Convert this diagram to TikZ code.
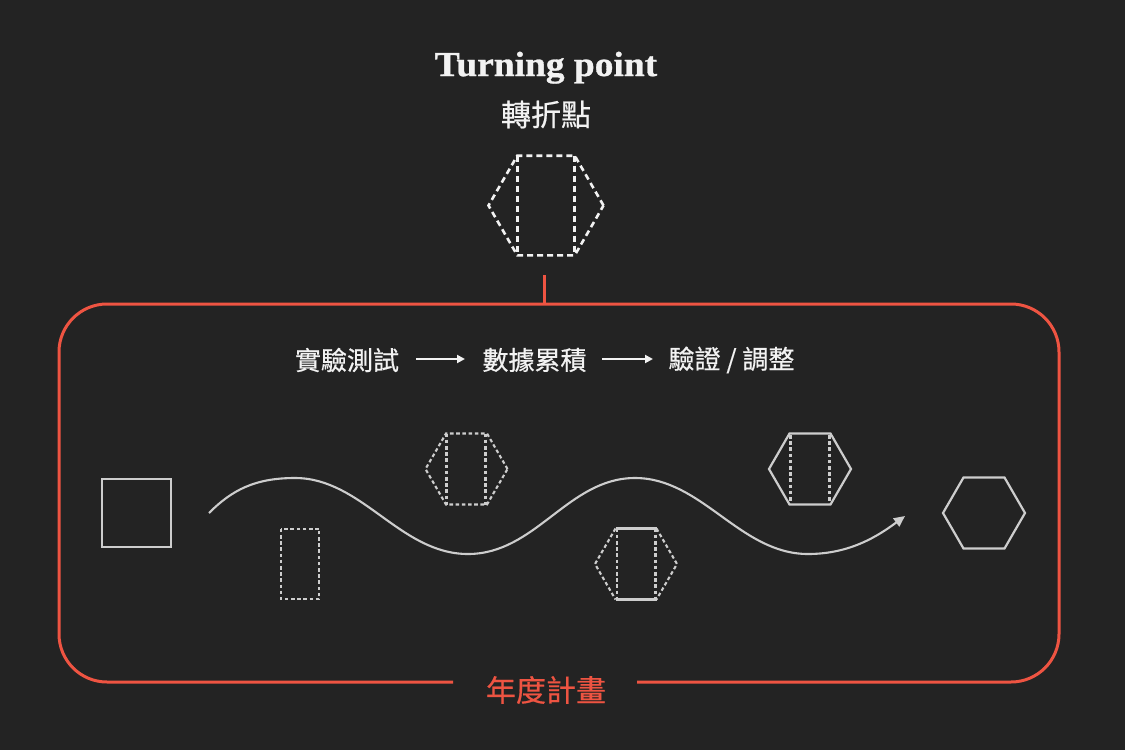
\documentclass[tikz,border=0pt]{standalone}
\usepackage{fontspec}
\usepackage{graphicx}
\setmainfont{Liberation Serif}
\newfontfamily\cjk[FakeBold=0.6]{Noto Sans CJK TC}
\newfontfamily\titlefont[FakeBold=0.8]{Liberation Serif Bold}
\usetikzlibrary{arrows.meta}
\definecolor{bgc}{HTML}{232323}
\definecolor{redc}{HTML}{EE5442}
\definecolor{grayc}{HTML}{CDCDCD}
\definecolor{whitec}{HTML}{F2F2F2}
\tikzset{
  frame/.style={draw=redc, line width=3pt},
  solidshape/.style={draw=grayc, line width=2.2pt, line join=miter},
  dashshape/.style={draw=grayc, line width=2.1pt, dash pattern=on 3.6pt off 2.6pt},
  bigdash/.style={draw=whitec, line width=2.6pt, dash pattern=on 6pt off 4pt},
  wave/.style={draw=grayc, line width=2.1pt, -{Triangle[length=11pt,width=10pt]}},
  flowarrow/.style={draw=whitec, line width=2pt, -{Triangle[length=8pt,width=8pt]}},
  cjktext/.style={text=whitec, font=\cjk\fontsize{26}{30}\selectfont, inner sep=0pt},
}
\begin{document}
\begin{tikzpicture}[x=1pt,y=-1pt]
\fill[bgc] (0,0) rectangle (1125,750);
\useasboundingbox (0,0) rectangle (1125,750);

% titles
\node[text=whitec, anchor=base, inner sep=0pt, font=\titlefont\fontsize{35}{40}\selectfont] (title) at (546,76) {\scalebox{1.07}[1]{Turning point}};
\node[cjktext, font=\cjk\fontsize{30}{34}\selectfont] (subtitle) at (546,114.5) {轉折點};

% top hexagon (all dashed) with inner rectangle
\begin{scope}[shift={(546,205.5)}]
  \draw[bigdash] (57.5,0) -- (28.75,-49.8) -- (-28.75,-49.8) -- (-57.5,0) -- (-28.75,49.8) -- (28.75,49.8) -- cycle;
  \draw[bigdash] (-28.75,-49.8) -- (-28.75,49.8);
  \draw[bigdash] (28.75,-49.8) -- (28.75,49.8);
\end{scope}

% frame
\coordinate (linktop) at (544,275);
\coordinate (linkbot) at (544,304);
\draw[frame] (linktop) -- (linkbot);
\coordinate (gapL) at (453,682);
\coordinate (gapR) at (637,682);
\draw[frame, rounded corners=48pt] (gapL) -- (59,682) -- (59,304) -- (1059,304) -- (1059,682) -- (gapR);
\node[text=redc, font=\cjk\fontsize{30}{34}\selectfont, inner sep=0pt] (plan) at (546,690) {年度計畫};

% process row
\node[cjktext] (s1) at (347,360) {實驗測試};
\node[cjktext] (s2) at (534.5,360) {數據累積};
\node[cjktext] (s3) at (731.5,360) {驗證 / 調整};
\coordinate (a1a) at (416,359);
\coordinate (a1b) at (465,359);
\coordinate (a2a) at (602,359);
\coordinate (a2b) at (653,359);
\draw[flowarrow] (a1a) -- (a1b);
\draw[flowarrow] (a2a) -- (a2b);

% evolution shapes
\draw[solidshape] (101.7,479) rectangle (170.7,547);
\draw[dashshape] (280.7,528.7) rectangle (319.3,599);

\begin{scope}[shift={(466.5,469)}]
  \draw[dashshape] (41,0) -- (20.5,-35.5) -- (-20.5,-35.5) -- (-41,0) -- (-20.5,35.5) -- (20.5,35.5) -- cycle;
  \draw[dashshape] (-20,-35.5) -- (-20,35.5);
  \draw[dashshape] (19,-35.5) -- (19,35.5);
\end{scope}

\begin{scope}[shift={(636,564)}]
  \draw[solidshape] (-20.5,-35.5) -- (20.5,-35.5);
  \draw[solidshape] (-20.5,35.5) -- (20.5,35.5);
  \draw[dashshape] (20.5,-35.5) -- (41,0) -- (20.5,35.5);
  \draw[dashshape] (-20.5,-35.5) -- (-41,0) -- (-20.5,35.5);
  \draw[dashshape] (-19,-35.5) -- (-19,35.5);
  \draw[dashshape] (19.5,-35.5) -- (19.5,35.5);
\end{scope}

\begin{scope}[shift={(810,469)}]
  \draw[solidshape] (41,0) -- (20.5,-35.5) -- (-20.5,-35.5) -- (-41,0) -- (-20.5,35.5) -- (20.5,35.5) -- cycle;
  \draw[dashshape] (-19.5,-34) -- (-19.5,34);
  \draw[dashshape] (19.5,-34) -- (19.5,34);
\end{scope}

\begin{scope}[shift={(984,513)}]
  \draw[solidshape] (41,0) -- (20.5,-35.5) -- (-20.5,-35.5) -- (-41,0) -- (-20.5,35.5) -- (20.5,35.5) -- cycle;
\end{scope}

% wave
\coordinate (wstart) at (209,513);
\coordinate (wend) at (905,516);
\draw[wave] (wstart) .. controls (232,490) and (255,478) .. (295,478)
  .. controls (362,478) and (400,554) .. (468,554)
  .. controls (536,554) and (568,478) .. (635,478)
  .. controls (702,478) and (740,554) .. (808,554)
  .. controls (850,554) and (878,536) .. (wend);
\end{tikzpicture}
\end{document}
